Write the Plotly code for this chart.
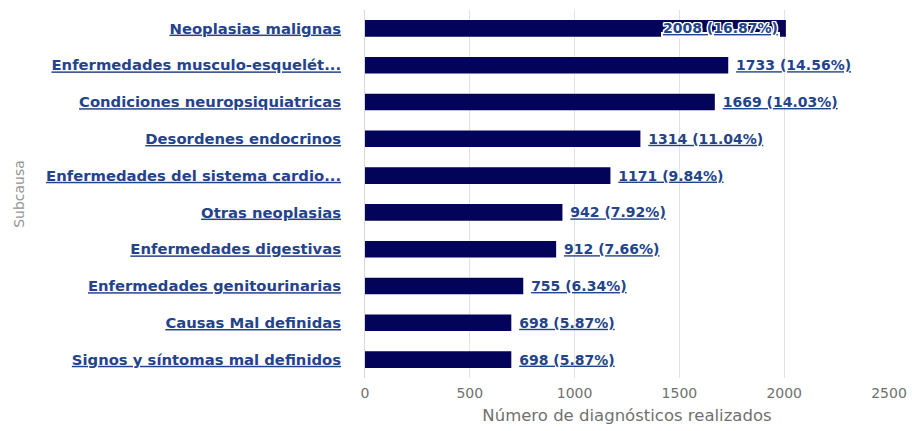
import plotly.graph_objects as go

# Diagnósticos por subcausa
subcausas = [
    "Neoplasias malignas",
    "Enfermedades musculo-esquelét...",
    "Condiciones neuropsiquiatricas",
    "Desordenes endocrinos",
    "Enfermedades del sistema cardio...",
    "Otras neoplasias",
    "Enfermedades digestivas",
    "Enfermedades genitourinarias",
    "Causas Mal definidas",
    "Signos y síntomas mal definidos",
]
diagnosticos = [2008, 1733, 1669, 1314, 1171, 942, 912, 755, 698, 698]
porcentajes = [16.87, 14.56, 14.03, 11.04, 9.84, 7.92, 7.66, 6.34, 5.87, 5.87]
x_ticks = [0, 500, 1000, 1500, 2000, 2500]

BAR = "#03035a"
LINK = "#23448a"
GRID = "#e3e3e3"
FONT = "DejaVu Sans"

labels = [f"<u>{v} ({p:.2f}%)</u>" for v, p in zip(diagnosticos, porcentajes)]
top = diagnosticos.index(max(diagnosticos))

# labels beside the bars, except the longest one which is written over its end
outside_text = ["" if i == top else "\u00a0" + t for i, t in enumerate(labels)]

fig = go.Figure()
fig.add_trace(
    go.Bar(
        x=diagnosticos,
        y=subcausas,
        orientation="h",
        marker=dict(color=BAR, line=dict(width=0)),
        text=outside_text,
        textposition="outside",
        outsidetextfont=dict(family=FONT, size=14, color=LINK, weight="bold"),
        cliponaxis=False,
        width=0.45,
        hoverinfo="x+y",
    )
)

halo = ("1px 0 0 #fff, -1px 0 0 #fff, 0 1px 0 #fff, 0 -1px 0 #fff, "
        "1px 1px 0 #fff, -1px -1px 0 #fff, 1px -1px 0 #fff, -1px 1px 0 #fff")
fig.add_annotation(
    x=diagnosticos[top],
    y=subcausas[top],
    xref="x",
    yref="y",
    text=labels[top],
    showarrow=False,
    xanchor="right",
    yanchor="middle",
    xshift=-6,
    font=dict(family=FONT, size=14, color=LINK, weight="bold", shadow=halo),
)

fig.update_layout(
    width=912,
    height=431,
    margin=dict(l=365, r=23, t=10, b=53),
    paper_bgcolor="white",
    plot_bgcolor="white",
    showlegend=False,
    bargap=0.55,
    xaxis=dict(
        range=[0, 2500],
        tickvals=x_ticks,
        automargin=False,
        showgrid=True,
        gridcolor=GRID,
        gridwidth=1,
        zeroline=False,
        showline=False,
        ticks="",
        ticklabelstandoff=5,
        tickfont=dict(family=FONT, size=14, color="#707070"),
        title=dict(text="Número de diagnósticos realizados",
                   font=dict(family=FONT, size=16.5, color="#707070"),
                   standoff=9),
    ),
    yaxis=dict(
        autorange="reversed",
        automargin=False,
        showgrid=False,
        zeroline=False,
        showline=True,
        linecolor="#d8d8d8",
        linewidth=1,
        ticks="",
        ticklabelstandoff=20,
        tickmode="array",
        tickvals=subcausas,
        ticktext=[f"<u>{s}</u>" for s in subcausas],
        tickfont=dict(family=FONT, size=14.8, color=LINK, weight="bold"),
        title=dict(text="Subcausa",
                   font=dict(family=FONT, size=14, color="#959595"),
                   standoff=18),
    ),
)

fig.write_html("out.html")
